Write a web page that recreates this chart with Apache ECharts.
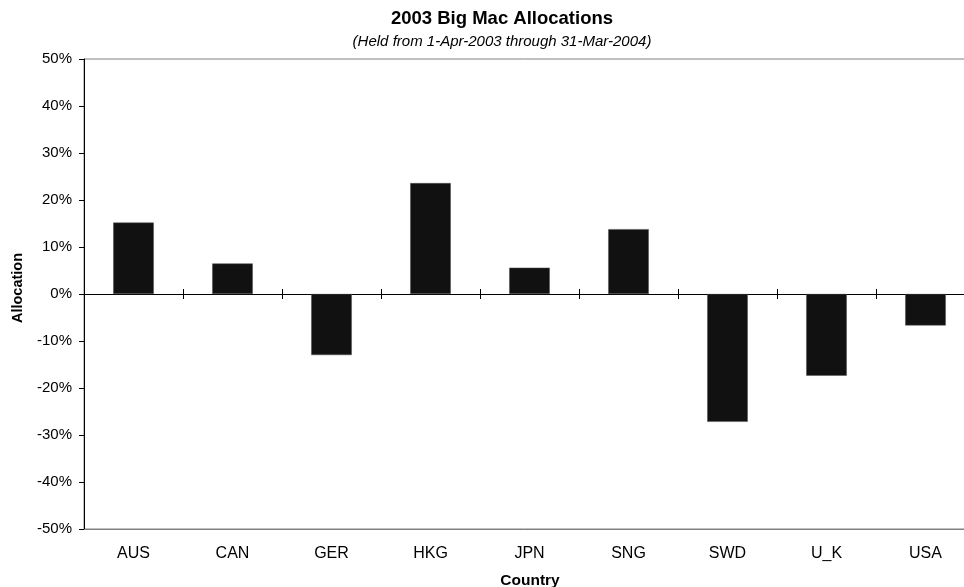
<!DOCTYPE html>
<html>
<head>
<meta charset="utf-8">
<script src="https://cdn.jsdelivr.net/npm/echarts@6/dist/echarts.min.js"></script>
<style>
  html, body { margin: 0; padding: 0; background: #fff; }
  #chart { width: 964px; height: 587px; }
</style>
</head>
<body>
<div id="chart"></div>
<script>
// categories and allocations (percent)
const countries = ['AUS', 'CAN', 'GER', 'HKG', 'JPN', 'SNG', 'SWD', 'U_K', 'USA'];
const allocations = [15.2, 6.5, -13.0, 23.6, 5.6, 13.8, -27.2, -17.4, -6.7];
const yTicks = [-50, -40, -30, -20, -10, 0, 10, 20, 30, 40, 50];

const FONT = '"Liberation Sans", Arial, sans-serif';

const chart = echarts.init(document.getElementById('chart'));
chart.setOption({
  animation: false,
  textStyle: { fontFamily: FONT },
  title: [{
    text: '2003 Big Mac Allocations',
    left: 497, top: 4, textAlign: 'center',
    textStyle: { fontSize: 18.5, fontWeight: 'bold', color: '#000', fontFamily: FONT }
  }, {
    text: '(Held from 1-Apr-2003 through 31-Mar-2004)',
    left: 497, top: 29, textAlign: 'center',
    textStyle: { fontSize: 15, fontStyle: 'italic', fontWeight: 'normal', color: '#000', fontFamily: FONT }
  }],
  graphic: [{
    type: 'text', x: 530, y: 581,
    style: { text: 'Country', font: 'bold 15.5px ' + FONT, fill: '#000', textAlign: 'center', textVerticalAlign: 'middle' }
  }, {
    type: 'text', x: 18, y: 288, rotation: Math.PI / 2,
    style: { text: 'Allocation', font: 'bold 14.5px ' + FONT, fill: '#000', textAlign: 'center', textVerticalAlign: 'middle' }
  }],
  grid: {
    left: 84, top: 59, right: -11, bottom: 58,
    outerBoundsMode: 'none',
    show: true, borderColor: '#808080', borderWidth: 1
  },
  xAxis: [{
    type: 'category',
    data: countries,
    position: 'bottom',
    axisLine: { onZero: false, lineStyle: { color: '#808080' } },
    axisTick: { show: false },
    axisLabel: { fontSize: 16, color: '#000', margin: 17, fontFamily: FONT }
  }, {
    // zero line with ticks below
    type: 'category',
    data: countries,
    position: 'bottom',
    axisLine: { onZero: true, onZeroAxisIndex: 0, lineStyle: { color: '#000' } },
    axisTick: { show: true, interval: 0, length: 5, lineStyle: { color: '#000' } },
    axisLabel: { show: false }
  }, {
    // ticks above the zero line
    type: 'category',
    data: countries,
    position: 'bottom',
    axisLine: { onZero: true, onZeroAxisIndex: 1, lineStyle: { color: '#000' } },
    axisTick: { show: true, interval: 0, inside: true, length: 5, lineStyle: { color: '#000' } },
    axisLabel: { show: false }
  }],
  yAxis: [{
    type: 'value',
    min: yTicks[0], max: yTicks[yTicks.length - 1], interval: 10,
    axisLine: { show: true, lineStyle: { color: '#000' } },
    axisTick: { show: true, length: 5, lineStyle: { color: '#000' } },
    splitLine: { show: false },
    axisLabel: { fontSize: 15, color: '#000', margin: 12, formatter: '{value}%', fontFamily: FONT }
  }, {
    type: 'value',
    min: yTicks[0], max: yTicks[yTicks.length - 1], interval: 10,
    position: 'left',
    axisLine: { show: false },
    axisTick: { show: false },
    axisLabel: { show: false },
    splitLine: { show: false }
  }],
  series: [{
    type: 'bar',
    xAxisIndex: 0,
    yAxisIndex: 0,
    data: allocations,
    barWidth: '41%',
    itemStyle: { color: '#111111', borderColor: '#555', borderWidth: 0.5 }
  }]
});
</script>
</body>
</html>
